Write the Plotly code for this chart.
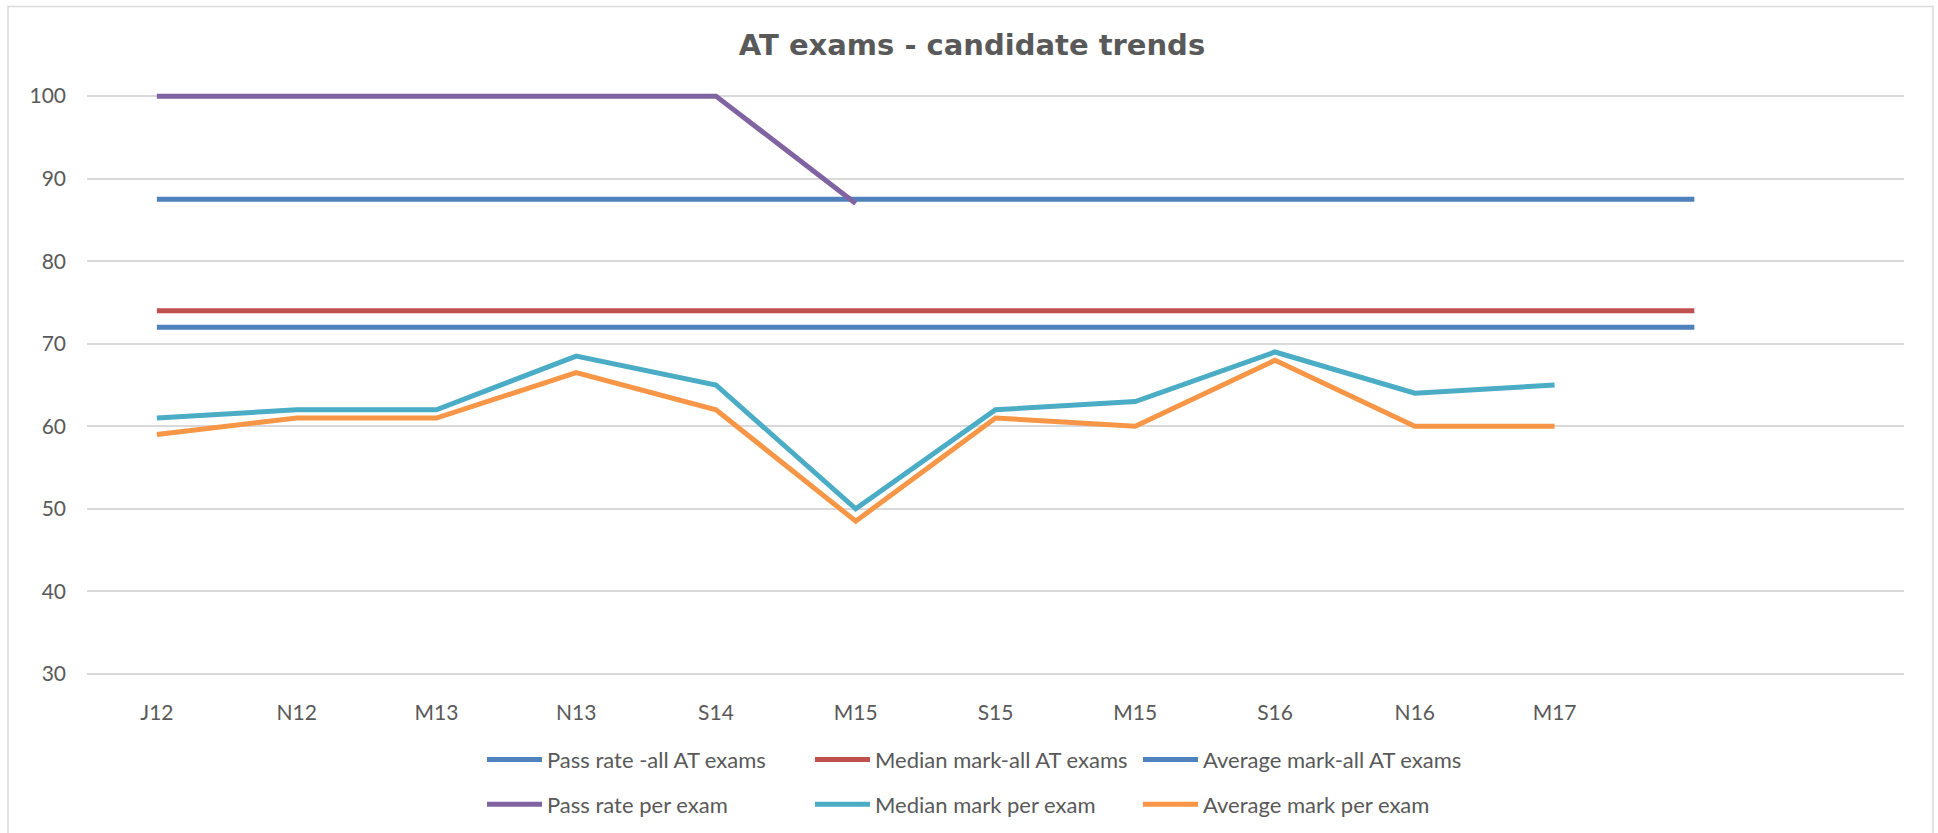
import plotly.graph_objects as go

# ---- data ----
categories = ["J12", "N12", "M13", "N13", "S14", "M15", "S15", "M15", "S16", "N16", "M17", "", ""]
pass_rate_all = [87.5, 87.5, 87.5, 87.5, 87.5, 87.5, 87.5, 87.5, 87.5, 87.5, 87.5, 87.5]
median_all = [74, 74, 74, 74, 74, 74, 74, 74, 74, 74, 74, 74]
average_all = [72, 72, 72, 72, 72, 72, 72, 72, 72, 72, 72, 72]
pass_rate_exam = [100, 100, 100, 100, 100, 87]
median_exam = [61, 62, 62, 68.5, 65, 50, 62, 63, 69, 64, 65]
average_exam = [59, 61, 61, 66.5, 62, 48.5, 61, 60, 68, 60, 60]
y_ticks = [30, 40, 50, 60, 70, 80, 90, 100]

# ---- layout constants (pixels) ----
W, H = 1938, 833
L, R = 87, 1904
Y_LO, Y_HI = 29.5, 100.5
PX_PER_UNIT = (674 - 95.7) / 70.0
TOP = 95.7 - (Y_HI - 100) * PX_PER_UNIT
BOT = 674 + (30 - Y_LO) * PX_PER_UNIT
PW, PH = R - L, BOT - TOP

GRAY = "#595959"
FONT = "Lato"

def px_to_paper_x(px):
    return (px - L) / PW

def px_to_paper_y(py):
    return (BOT - py) / PH

series = [
    ("Pass rate -all AT exams", pass_rate_all, "#4F81BD", "legend"),
    ("Median mark-all AT exams", median_all, "#C0504D", "legend2"),
    ("Average mark-all AT exams", average_all, "#4F81BD", "legend3"),
    ("Pass rate per exam", pass_rate_exam, "#8064A2", "legend"),
    ("Median mark per exam", median_exam, "#4BACC6", "legend2"),
    ("Average mark per exam", average_exam, "#F79646", "legend3"),
]

fig = go.Figure()
for i, (name, vals, color, leg) in enumerate(series):
    fig.add_trace(go.Scatter(
        x=list(range(len(vals))), y=vals, mode="lines", name=name,
        line=dict(color=color, width=5), legend=leg, legendgroup=f"g{i}",
        hoverinfo="skip",
    ))

legend_common = dict(
    orientation="v", traceorder="grouped", tracegroupgap=13,
    font=dict(family=FONT, size=22, color=GRAY), itemwidth=55,
    bgcolor="rgba(0,0,0,0)", borderwidth=0,
    xanchor="left", yanchor="top", y=px_to_paper_y(739),
)
col_lefts = [487, 815, 1143]

fig.update_layout(
    width=W, height=H,
    margin=dict(l=L, r=W - R, t=TOP, b=H - BOT, autoexpand=False),
    paper_bgcolor="white", plot_bgcolor="white",
    title=dict(text="<b>AT exams - candidate trends</b>",
               font=dict(family="DejaVu Sans", size=29, color=GRAY),
               x=972 / W, xanchor="center", xref="container",
               y=1 - 45 / H, yanchor="middle", yref="container"),
    legend=dict(**legend_common, x=px_to_paper_x(col_lefts[0] - 5)),
    legend2=dict(**legend_common, x=px_to_paper_x(col_lefts[1] - 5)),
    legend3=dict(**legend_common, x=px_to_paper_x(col_lefts[2] - 5)),
    xaxis=dict(
        range=[-0.5, len(categories) - 0.5],
        tickmode="array", tickvals=list(range(len(categories))), ticktext=categories,
        showgrid=False, zeroline=False, showline=False, ticks="",
        tickfont=dict(family=FONT, size=21, color=GRAY), ticklabelstandoff=20,
    ),
    yaxis=dict(
        range=[Y_LO, Y_HI], tickmode="array", tickvals=y_ticks,
        showgrid=True, gridcolor="#D9D9D9", gridwidth=1.5,
        zeroline=False, showline=False, ticks="",
        tickfont=dict(family=FONT, size=21, color=GRAY), ticklabelstandoff=20,
    ),
    shapes=[dict(
        type="rect", xref="paper", yref="paper",
        x0=px_to_paper_x(8), x1=px_to_paper_x(1933),
        y0=px_to_paper_y(845), y1=px_to_paper_y(6),
        line=dict(color="#D9D9D9", width=1.5), fillcolor="rgba(0,0,0,0)", layer="below",
    )],
)

fig.write_html("out.html", config={"displayModeBar": False},
               post_script="document.body.style.margin='0';document.body.style.overflow='hidden';")
